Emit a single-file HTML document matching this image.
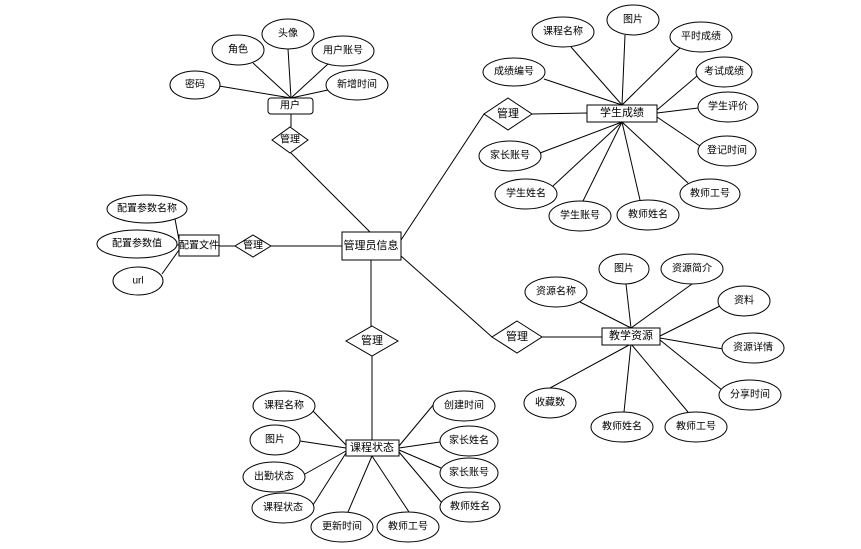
<!DOCTYPE html>
<html><head><meta charset="utf-8"><style>
html,body{margin:0;padding:0;background:#fff;}
svg{display:block;}
text{font-family:"Liberation Sans","Noto Sans CJK SC",sans-serif;font-size:10px;fill:#000;text-anchor:middle;dominant-baseline:central;}
.e{font-size:11px;}
ellipse,rect,polygon{fill:#fff;stroke:#000;stroke-width:1;}
line{stroke:#000;stroke-width:1;}
</style></head><body>
<svg width="861" height="549" viewBox="0 0 861 549">
<!-- connectors -->
<g>
<line x1="291" y1="153" x2="370" y2="232"/>
<line x1="291" y1="114" x2="291" y2="127"/>
<line x1="219" y1="86" x2="291" y2="98"/>
<line x1="253" y1="63" x2="291" y2="98"/>
<line x1="288" y1="49" x2="291" y2="98"/>
<line x1="328" y1="64" x2="291" y2="98"/>
<line x1="328" y1="90" x2="291" y2="98"/>
<line x1="175" y1="219" x2="179" y2="240"/>
<line x1="176" y1="245" x2="179" y2="245"/>
<line x1="162" y1="274" x2="179" y2="250"/>
<line x1="219" y1="246" x2="235" y2="246"/>
<line x1="271" y1="246" x2="342" y2="246"/>
<line x1="371" y1="260" x2="371" y2="326"/>
<line x1="372" y1="356" x2="372" y2="440"/>
<line x1="401" y1="240" x2="484" y2="114"/>
<line x1="532" y1="114" x2="587" y2="113"/>
<line x1="401" y1="256" x2="492" y2="337"/>
<line x1="542" y1="337" x2="602" y2="337"/>
<!-- 学生成绩 -->
<line x1="544" y1="79" x2="622" y2="105"/>
<line x1="571" y1="47" x2="622" y2="105"/>
<line x1="625" y1="35" x2="622" y2="105"/>
<line x1="680" y1="48" x2="622" y2="105"/>
<line x1="697" y1="76" x2="657" y2="110"/>
<line x1="698" y1="108" x2="657" y2="113"/>
<line x1="700" y1="146" x2="657" y2="117"/>
<line x1="540" y1="153" x2="622" y2="122"/>
<line x1="553" y1="186" x2="622" y2="122"/>
<line x1="583" y1="201" x2="622" y2="122"/>
<line x1="640" y1="200" x2="622" y2="122"/>
<line x1="688" y1="183" x2="622" y2="122"/>
<!-- 教学资源 -->
<line x1="580" y1="302" x2="631" y2="328"/>
<line x1="626" y1="284" x2="631" y2="328"/>
<line x1="692" y1="284" x2="631" y2="328"/>
<line x1="720" y1="306" x2="660" y2="336"/>
<line x1="723" y1="349" x2="660" y2="338"/>
<line x1="722" y1="390" x2="660" y2="340"/>
<line x1="550" y1="388" x2="631" y2="344"/>
<line x1="624" y1="412" x2="631" y2="344"/>
<line x1="688" y1="412" x2="631" y2="344"/>
<!-- 课程状态 -->
<line x1="312" y1="410" x2="346" y2="445"/>
<line x1="300" y1="441" x2="346" y2="448"/>
<line x1="305" y1="474" x2="346" y2="451"/>
<line x1="313" y1="505" x2="346" y2="453"/>
<line x1="348" y1="512" x2="372" y2="456"/>
<line x1="409" y1="512" x2="372" y2="456"/>
<line x1="434" y1="404" x2="399" y2="446"/>
<line x1="440" y1="442" x2="399" y2="448"/>
<line x1="441" y1="468" x2="399" y2="450"/>
<line x1="442" y1="503" x2="399" y2="452"/>
</g>
<!-- user -->
<rect x="268" y="98" width="45" height="16" rx="3"/><text x="290" y="106">用户</text>
<ellipse cx="195" cy="85" rx="25" ry="14"/><text x="195" y="85">密码</text>
<ellipse cx="238" cy="50" rx="26" ry="15"/><text x="238" y="50">角色</text>
<ellipse cx="288" cy="34" rx="26" ry="15"/><text x="288" y="34">头像</text>
<ellipse cx="343" cy="51" rx="31" ry="15"/><text x="343" y="51">用户账号</text>
<ellipse cx="357" cy="85" rx="31" ry="15"/><text x="357" y="85">新增时间</text>
<polygon points="290,127 308,140 290,153 272,140"/><text x="290" y="140">管理</text>
<!-- config -->
<rect x="179" y="235" width="40" height="21"/><text x="199" y="246">配置文件</text>
<ellipse cx="147" cy="209" rx="40" ry="14"/><text x="147" y="209">配置参数名称</text>
<ellipse cx="137" cy="244" rx="40" ry="14"/><text x="137" y="244">配置参数值</text>
<ellipse cx="138" cy="281" rx="25" ry="14"/><text x="138" y="281">url</text>
<polygon points="253,235 271,246 253,257 235,246"/><text x="253" y="246">管理</text>
<!-- admin -->
<rect x="342" y="232" width="59" height="28"/><text class="e" x="371" y="246">管理员信息</text>
<polygon points="372,326 398,341 372,356 346,341"/><text class="e" x="372" y="341">管理</text>
<!-- 学生成绩 -->
<polygon points="508,98 532,114 508,130 484,114"/><text class="e" x="508" y="114">管理</text>
<rect x="587" y="105" width="70" height="17" stroke-width="1.5"/><text class="e" x="622" y="113">学生成绩</text>
<ellipse cx="514" cy="72" rx="31" ry="14"/><text x="514" y="72">成绩编号</text>
<ellipse cx="563" cy="32" rx="31" ry="15"/><text x="563" y="32">课程名称</text>
<ellipse cx="633" cy="20" rx="26" ry="15"/><text x="633" y="20">图片</text>
<ellipse cx="701" cy="37" rx="31" ry="15"/><text x="701" y="37">平时成绩</text>
<ellipse cx="724" cy="72" rx="28" ry="15"/><text x="724" y="72">考试成绩</text>
<ellipse cx="728" cy="107" rx="30" ry="15"/><text x="728" y="107">学生评价</text>
<ellipse cx="727" cy="151" rx="29" ry="15"/><text x="727" y="151">登记时间</text>
<ellipse cx="510" cy="156" rx="31" ry="15"/><text x="510" y="156">家长账号</text>
<ellipse cx="526" cy="194" rx="31" ry="15"/><text x="526" y="194">学生姓名</text>
<ellipse cx="580" cy="216" rx="31" ry="15"/><text x="580" y="216">学生账号</text>
<ellipse cx="648" cy="215" rx="31" ry="15"/><text x="648" y="215">教师姓名</text>
<ellipse cx="710" cy="194" rx="30" ry="15"/><text x="710" y="194">教师工号</text>
<!-- 教学资源 -->
<polygon points="517,321 542,337 517,353 492,337"/><text class="e" x="517" y="337">管理</text>
<rect x="602" y="328" width="58" height="17" stroke-width="1.5"/><text class="e" x="631" y="336">教学资源</text>
<ellipse cx="556" cy="292" rx="31" ry="15"/><text x="556" y="292">资源名称</text>
<ellipse cx="624" cy="269" rx="25" ry="15"/><text x="624" y="269">图片</text>
<ellipse cx="692" cy="269" rx="31" ry="15"/><text x="692" y="269">资源简介</text>
<ellipse cx="744" cy="301" rx="26" ry="15"/><text x="744" y="301">资料</text>
<ellipse cx="753" cy="348" rx="31" ry="15"/><text x="753" y="348">资源详情</text>
<ellipse cx="750" cy="395" rx="31" ry="15"/><text x="750" y="395">分享时间</text>
<ellipse cx="550" cy="403" rx="26" ry="15"/><text x="550" y="403">收藏数</text>
<ellipse cx="622" cy="427" rx="31" ry="15"/><text x="622" y="427">教师姓名</text>
<ellipse cx="696" cy="427" rx="31" ry="15"/><text x="696" y="427">教师工号</text>
<!-- 课程状态 -->
<rect x="346" y="440" width="53" height="16" stroke-width="1.5"/><text class="e" x="372" y="448">课程状态</text>
<ellipse cx="284" cy="406" rx="31" ry="15"/><text x="284" y="406">课程名称</text>
<ellipse cx="275" cy="440" rx="25" ry="15"/><text x="275" y="440">图片</text>
<ellipse cx="274" cy="477" rx="31" ry="15"/><text x="274" y="477">出勤状态</text>
<ellipse cx="283" cy="508" rx="31" ry="15"/><text x="283" y="508">课程状态</text>
<ellipse cx="342" cy="527" rx="31" ry="15"/><text x="342" y="527">更新时间</text>
<ellipse cx="408" cy="527" rx="31" ry="15"/><text x="408" y="527">教师工号</text>
<ellipse cx="464" cy="406" rx="31" ry="15"/><text x="464" y="406">创建时间</text>
<ellipse cx="469" cy="441" rx="29" ry="15"/><text x="469" y="441">家长姓名</text>
<ellipse cx="469" cy="473" rx="29" ry="15"/><text x="469" y="473">家长账号</text>
<ellipse cx="470" cy="507" rx="30" ry="15"/><text x="470" y="507">教师姓名</text>
</svg>
</body></html>
